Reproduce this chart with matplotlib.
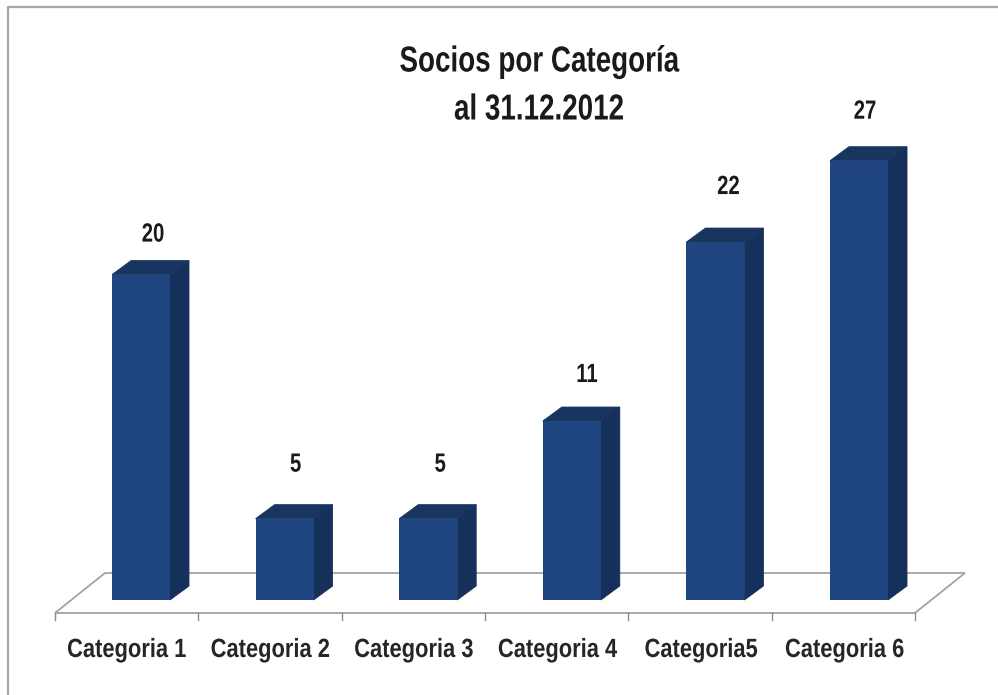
import matplotlib
matplotlib.use("Agg")
import matplotlib.pyplot as plt
from matplotlib.patches import Polygon
from matplotlib.patheffects import AbstractPathEffect
from matplotlib.transforms import Affine2D

categorias = ["Categoria 1", "Categoria 2", "Categoria 3", "Categoria 4", "Categoria5", "Categoria 6"]
socios = [20, 5, 5, 11, 22, 27]

# the value labels were moved by hand in the original, offsets in pixels from the bar
label_dx = [12, 11, 12, 15, 13, 6]
label_dy = [40, 54, 54, 46, 55, 49]

W, H = 998, 695
# one category step / one member, in pixels of the picture
PX_X = 143.6
PX_Y = 16.27
BAR_W = 58 / PX_X
DEPTH_X = 19 / PX_X
DEPTH_Y = 14 / PX_Y


class Narrow(AbstractPathEffect):
    # no narrow font installed, so squeeze the glyphs around their centre
    def __init__(self, sx):
        self.sx = sx

    def draw_path(self, renderer, gc, tpath, affine, rgbFace=None):
        box = tpath.get_extents(affine)
        cx = (box.x0 + box.x1) / 2
        squeeze = Affine2D().translate(-cx, 0).scale(self.sx, 1).translate(cx, 0)
        renderer.draw_path(gc, tpath, affine + squeeze, rgbFace)


plt.rcParams['font.family'] = ['Liberation Sans', 'DejaVu Sans']

fig = plt.figure(figsize=(W / 100, H / 100), dpi=100)
ax = fig.add_axes([0, 0, 1, 1])
ax.set_xlim((0 - 141) / PX_X, (W - 141) / PX_X)
ax.set_ylim((600 - H) / PX_Y, 600 / PX_Y)
ax.axis("off")

# outer frame of the picture
ax.plot([8 / W, 8 / W, 1], [0, 1 - 7 / H, 1 - 7 / H], transform=ax.transAxes, color="#a6a6a6", lw=1.6)

# floor of the 3d plot
front_y = -13 / PX_Y
back_y = 27 / PX_Y
left = (55 - 141) / PX_X
right = (915 - 141) / PX_X
skew = 50 / PX_X
ax.add_patch(Polygon([(left, front_y), (right, front_y), (right + skew, back_y), (left + skew, back_y)],
                     closed=True, facecolor="white", edgecolor="#a3a3a3", lw=1.3, zorder=1))
for i in range(len(categorias) + 1):
    x = left + i * (right - left) / len(categorias)
    ax.plot([x, x], [front_y, front_y - 7 / PX_Y], color="#8c8c8c", lw=1, zorder=1)

for i, (nombre, valor) in enumerate(zip(categorias, socios)):
    x0 = i - BAR_W / 2
    x1 = i + BAR_W / 2
    # side and top faces
    ax.add_patch(Polygon([(x1, 0), (x1 + DEPTH_X, DEPTH_Y), (x1 + DEPTH_X, valor + DEPTH_Y), (x1, valor)],
                         closed=True, facecolor="#15305b", edgecolor="#15305b", lw=0.6, zorder=3))
    ax.add_patch(Polygon([(x0, valor), (x0 + DEPTH_X, valor + DEPTH_Y), (x1 + DEPTH_X, valor + DEPTH_Y), (x1, valor)],
                         closed=True, facecolor="#18355f", edgecolor="#18355f", lw=0.6, zorder=3))
    ax.bar(i, valor, width=BAR_W, color="#1f4680", linewidth=0, zorder=4)
    ax.text(i + label_dx[i] / PX_X, valor + label_dy[i] / PX_Y, str(valor), ha="center", va="center",
            fontsize=19, fontweight="bold", color="#1a1a1a", path_effects=[Narrow(0.77)])
    ax.text(i - 0.1, -50 / PX_Y, nombre, ha="center", va="center",
            fontsize=19, fontweight="bold", color="#262626", path_effects=[Narrow(0.83)])

for texto, py in [("Socios por Categoría", 62), ("al 31.12.2012", 110)]:
    ax.text(539 / W, 1 - py / H, texto, transform=ax.transAxes, ha="center", va="center",
            fontsize=26, fontweight="bold", color="#1a1a1a", path_effects=[Narrow(0.77)])

fig.savefig("out.png", dpi=100, facecolor="white")
